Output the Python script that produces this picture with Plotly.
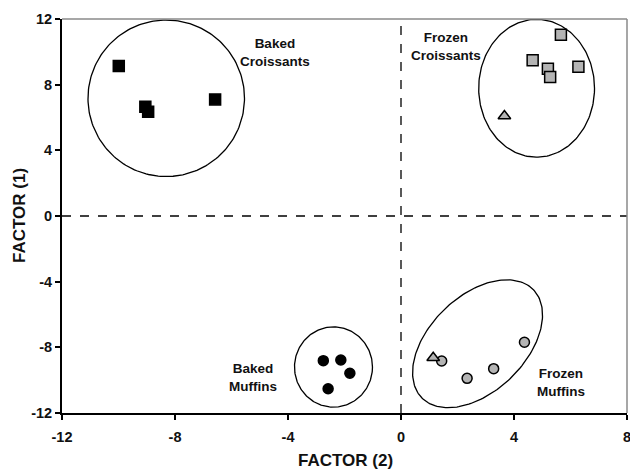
import numpy as np
import plotly.graph_objects as go

# ---- data ----
baked_croissants_x = [-9.99, -9.05, -8.95, -6.58]
baked_croissants_y = [9.14, 6.66, 6.35, 7.10]

frozen_croissants_x = [5.66, 4.66, 5.20, 5.28, 6.28]
frozen_croissants_y = [11.04, 9.48, 8.97, 8.47, 9.09]
frozen_croissant_tri_x = [3.66]
frozen_croissant_tri_y = [6.09]

baked_muffins_x = [-2.75, -2.13, -1.81, -2.58]
baked_muffins_y = [-8.81, -8.77, -9.58, -10.52]

frozen_muffins_x = [1.44, 2.34, 3.28, 4.37]
frozen_muffins_y = [-8.83, -9.89, -9.30, -7.69]
frozen_muffin_tri_x = [1.14]
frozen_muffin_tri_y = [-8.63]

# group ellipses: centre x, centre y, semi-axis a, semi-axis b (x-units), angle (deg)
ellipse_cx = [-8.31, 4.80, -2.39, 2.71]
ellipse_cy = [7.17, 7.78, -9.20, -7.78]
ellipse_a = [2.77, 2.05, 1.38, 2.75]
ellipse_b = [2.77, 2.44, 1.42, 1.69]
ellipse_ang = [0, 0, 0, 44]

group_labels = ["Baked<br>Croissants", "Frozen<br>Croissants", "Baked<br>Muffins", "Frozen<br>Muffins"]
label_x = [-4.45, 1.58, -5.25, 5.67]
label_y = [9.93, 10.31, -9.85, -10.13]

x_ticks = [-12, -8, -4, 0, 4, 8]
y_ticks = [-12, -8, -4, 0, 4, 8, 12]

FONT = "Liberation Sans, Arial, sans-serif"
GREY = "#b4b4b4"

W, H = 630, 471
ML, MT = 62, 19
pw, ph = 565, 394
MR, MB = W - ML - pw, H - MT - ph
aspect = (pw / 20) / (ph / 24)  # y-units per x-unit for equal pixels

fig = go.Figure()

t = np.linspace(0, 2 * np.pi, 200)
for cx, cy, a, b, ang in zip(ellipse_cx, ellipse_cy, ellipse_a, ellipse_b, ellipse_ang):
    th = np.deg2rad(ang)
    dx = a * np.cos(t) * np.cos(th) - b * np.sin(t) * np.sin(th)
    dy = (a * np.cos(t) * np.sin(th) + b * np.sin(t) * np.cos(th)) * aspect
    fig.add_trace(go.Scatter(x=cx + dx, y=cy + dy, mode="lines",
                             line=dict(color="black", width=1.3),
                             hoverinfo="skip", showlegend=False))

def add_pts(xs, ys, symbol, fill, size):
    fig.add_trace(go.Scatter(x=xs, y=ys, mode="markers", showlegend=False,
                             marker=dict(symbol=symbol, color=fill, size=size,
                                         line=dict(color="black", width=1.5))))

add_pts(baked_croissants_x, baked_croissants_y, "square", "black", 11)
add_pts(frozen_croissants_x, frozen_croissants_y, "square", GREY, 11)
add_pts(frozen_croissant_tri_x, frozen_croissant_tri_y, "triangle-up", GREY, 11)
add_pts(baked_muffins_x, baked_muffins_y, "circle", "black", 10)
add_pts(frozen_muffins_x, frozen_muffins_y, "circle", GREY, 10)
add_pts(frozen_muffin_tri_x, frozen_muffin_tri_y, "triangle-up", GREY, 11)

for txt, lx, ly in zip(group_labels, label_x, label_y):
    fig.add_annotation(x=lx, y=ly, text="<b>" + txt.replace("<br>", "</b><br><b>") + "</b>",
                       showarrow=False, xanchor="center", yanchor="middle",
                       font=dict(family=FONT, size=13.5, color="#111"),
                       align="center")

# axis titles (positions in page pixels, converted to paper coords)
fig.add_annotation(xref="paper", yref="paper", x=(345.5 - ML) / pw,
                   y=(MT + ph - 460) / ph, xanchor="center", yanchor="middle",
                   text="<b>FACTOR (2)</b>", showarrow=False,
                   font=dict(family=FONT, size=17, color="#111"))
fig.add_annotation(xref="paper", yref="paper", x=(19 - ML) / pw,
                   y=(MT + ph - 216) / ph, xanchor="center", yanchor="middle",
                   text="<b>FACTOR (1)</b>", showarrow=False, textangle=-90,
                   font=dict(family=FONT, size=17, color="#111"))

# zero reference lines
fig.add_shape(type="line", xref="x", yref="paper", x0=0, x1=0, y0=0, y1=1,
              line=dict(color="black", width=1.3, dash="dash"))
fig.add_shape(type="line", xref="paper", yref="y", x0=0, x1=1, y0=0, y1=0,
              line=dict(color="black", width=1.3, dash="dash"))
# grey top/right frame
fig.add_shape(type="line", xref="paper", yref="paper", x0=0, x1=1, y0=1, y1=1,
              line=dict(color="#8a8a8a", width=1.5))
fig.add_shape(type="line", xref="paper", yref="paper", x0=1, x1=1, y0=0, y1=1,
              line=dict(color="#8a8a8a", width=1.5))

fig.update_layout(
    width=W, height=H,
    margin=dict(l=ML, r=MR, t=MT, b=MB, autoexpand=False),
    paper_bgcolor="white", plot_bgcolor="white",
    font=dict(family=FONT, color="#111"),
    xaxis=dict(range=[-12, 8], tickvals=x_ticks,
               ticktext=["<b>%d</b>" % v for v in x_ticks], automargin=False,
               ticklabeloverflow="allow", ticklabelstandoff=5,
               showgrid=False, zeroline=False, showline=True, linecolor="black",
               linewidth=2, ticks="outside", ticklen=5, tickwidth=1.5, tickcolor="black",
               tickfont=dict(family=FONT, size=14.5, color="#111")),
    yaxis=dict(range=[-12, 12], tickvals=y_ticks,
               ticktext=["<b>%d</b>" % v for v in y_ticks], automargin=False,
               ticklabeloverflow="allow",
               showgrid=False, zeroline=False, showline=True, linecolor="black",
               linewidth=2, ticks="outside", ticklen=5, tickwidth=1.5, tickcolor="black",
               tickfont=dict(family=FONT, size=14.5, color="#111")),
)

fig.write_html("out.html", config={"displayModeBar": False},
               post_script="document.body.style.margin='0';"
                           "document.body.style.overflow='hidden';"
                           "document.documentElement.style.overflow='hidden';")
